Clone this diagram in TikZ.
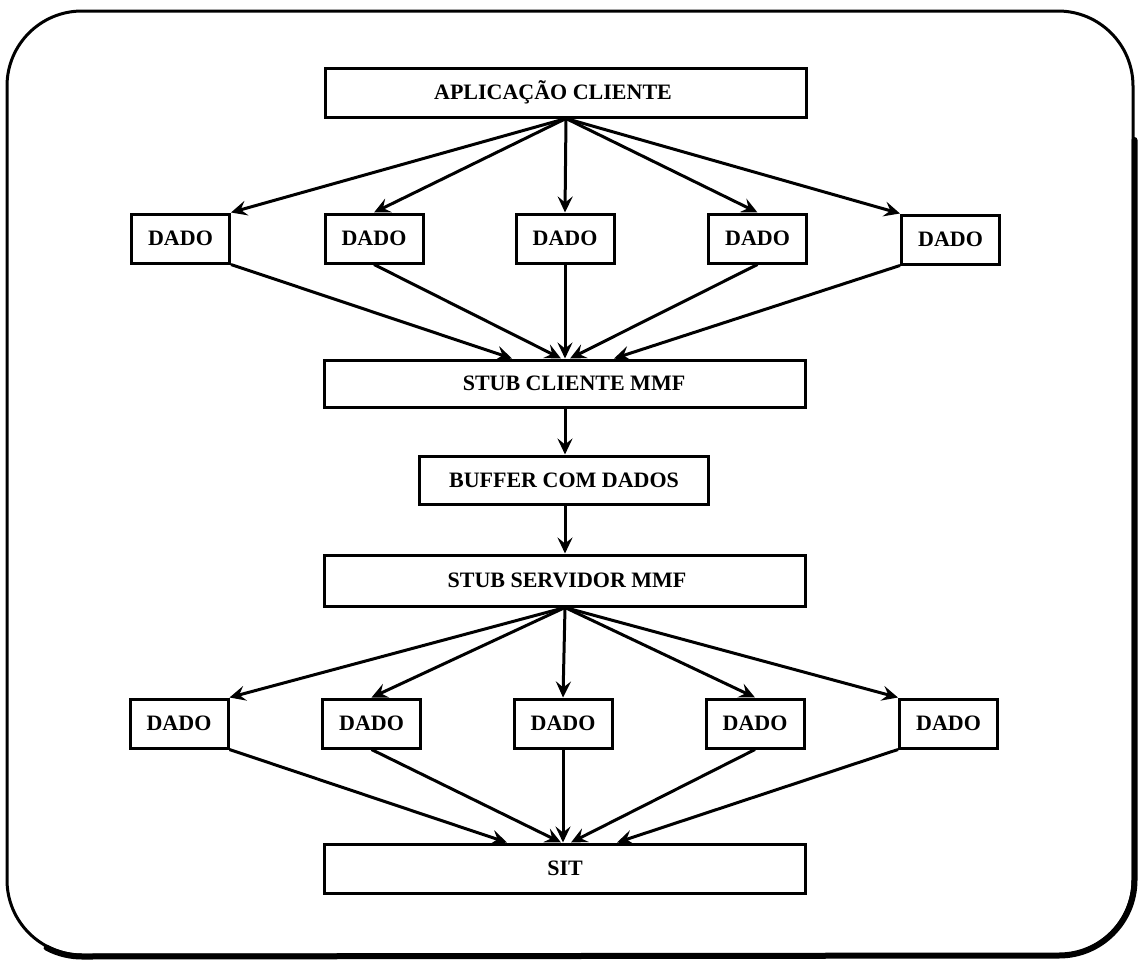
\documentclass[tikz,border=0pt]{standalone}
\usepackage{fontspec}
\setmainfont{Liberation Serif}
\usetikzlibrary{arrows.meta}
\begin{document}
\begin{tikzpicture}[x=1pt,y=-1pt,
  box/.style={draw, line width=3pt, inner sep=0pt,
    font=\fontsize{22}{24}\selectfont\bfseries},
  wide/.style={box, minimum width=481pt, minimum height=49pt},
  dado/.style={box, minimum width=98pt, minimum height=49pt},
  flow/.style={line width=3pt, -{Stealth[length=16pt,width=15pt,inset=6pt]}},
]
\useasboundingbox (0,0) rectangle (1138,961);

% outer rounded frame, heavier along the right and bottom sides
\draw[line width=3pt, rounded corners=75pt] (7,11) rectangle (1133,955);
\draw[line width=6pt, line cap=round] (1134.5,140) -- (1134.5,880)
  arc[start angle=0, end angle=90, radius=75.5] -- (82,956.5)
  arc[start angle=90, end angle=118, radius=75.5];

% client side
\node[wide] (apl) at (566,92.5) {\hspace*{-26pt}APLICAÇÃO CLIENTE};
\node[dado] (a1) at (180.5,238.5) {DADO};
\node[dado] (a2) at (374,238.5) {DADO};
\node[dado] (a3) at (565,238.5) {DADO};
\node[dado] (a4) at (757.5,238.5) {DADO};
\node[dado] (a5) at (950.5,239.5) {DADO};
\node[wide, minimum height=47pt] (stubc) at (565,383.5) {\hspace*{18pt}STUB CLIENTE MMF};

% transport
\node[box, minimum width=289pt, minimum height=48pt] (buf) at (564,480) {BUFFER COM DADOS};

% server side
\node[wide, minimum height=51pt] (stubs) at (565,580.5) {\hspace*{4pt}STUB SERVIDOR MMF};
\node[dado] (b1) at (179,723.5) {DADO};
\node[dado] (b2) at (371.5,723.5) {DADO};
\node[dado] (b3) at (563,723.5) {DADO};
\node[dado] (b4) at (755,723.5) {DADO};
\node[dado] (b5) at (948.5,723.5) {DADO};
\node[wide] (sit) at (565,868.5) {SIT};

% fan-out from the client application
\draw[flow] (apl.south) -- (a1.north east);
\draw[flow] (apl.south) -- (a2.north);
\draw[flow] (apl.south) -- (a3.north);
\draw[flow] (apl.south) -- (a4.north);
\draw[flow] (apl.south) -- (a5.north west);

% fan-in to the client stub
\draw[flow] (a1.south east) -- ([xshift=-53pt]stubc.north);
\draw[flow] (a2.south) -- ([xshift=-4pt]stubc.north);
\draw[flow] (a3.south) -- (a3.south |- stubc.north);
\draw[flow] (a4.south) -- ([xshift=5pt]stubc.north);
\draw[flow] (a5.south west) -- ([xshift=49pt]stubc.north);

% stub -> buffer -> stub
\draw[flow] (stubc.south) -- (stubc.south |- buf.north);
\draw[flow] (stubc.south |- buf.south) -- (stubs.north);

% fan-out from the server stub
\draw[flow] (stubs.south) -- (b1.north east);
\draw[flow] (stubs.south) -- (b2.north);
\draw[flow] (stubs.south) -- (b3.north);
\draw[flow] (stubs.south) -- (b4.north);
\draw[flow] (stubs.south) -- (b5.north west);

% fan-in to SIT
\draw[flow] (b1.south east) -- ([xshift=-58pt]sit.north);
\draw[flow] (b2.south) -- ([xshift=-4pt]sit.north);
\draw[flow] (b3.south) -- (b3.south |- sit.north);
\draw[flow] (b4.south) -- ([xshift=6pt]sit.north);
\draw[flow] (b5.south west) -- ([xshift=52pt]sit.north);
\end{tikzpicture}
\end{document}
